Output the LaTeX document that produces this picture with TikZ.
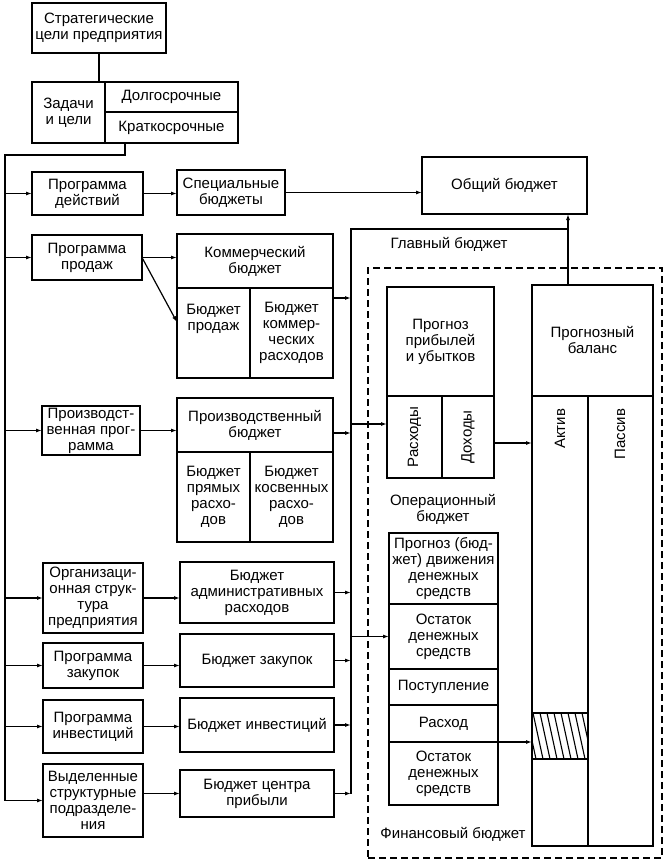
\documentclass[tikz,border=0pt]{standalone}
\usepackage{fontspec}
\setmainfont{Liberation Sans}
\usetikzlibrary{arrows.meta,calc}
\tikzset{
  cell/.style={draw, line width=1.6pt, inner sep=0pt, outer sep=0pt, align=center},
  dashbox/.style={line width=1.1pt, dash pattern=on 7pt off 4pt},
  txt/.style={inner sep=0pt, outer sep=0pt, align=center},
  conn/.style={line width=1.2pt},
  arr/.style={line width=1.2pt, -{Latex[length=6pt,width=4pt]}},
  hatch/.style={line width=1.1pt}
}
\newcommand\cellbox[7][]{%
  \pgfmathsetmacro\cbw{#5-#3}\pgfmathsetmacro\cbh{#6-#4}%
  \pgfmathsetmacro\cbx{(#3+#5)/2}\pgfmathsetmacro\cby{(#4+#6)/2}%
  \node[cell,minimum width=\cbw pt,minimum height=\cbh pt,#1] (#2) at (\cbx,\cby) {#7};}
\begin{document}
\begin{tikzpicture}[x=1pt,y=-1pt,every node/.style={font=\fontsize{15}{16}\selectfont}]
\useasboundingbox[fill=white] (0,0) rectangle (669,864);
% main (dashed) budget frame
\cellbox[dashbox]{mb}{368}{268}{662}{858}{}
% top
\cellbox{strat}{32}{3}{166}{53}{Стратегические\\цели предприятия}
\cellbox{zad}{32}{82}{105}{143}{Задачи\\и цели}
\cellbox{dolg}{105}{82}{238}{112}{Долгосрочные}
\cellbox{krat}{105}{112}{238}{143}{Краткосрочные}
% left column
\cellbox{pd}{32}{172}{143}{215}{Программа\\действий}
\cellbox{pp}{32}{235}{142}{280}{Программа\\продаж}
\cellbox{pprog}{42}{406}{140}{455}{Производст-\\венная прог-\\рамма}
\cellbox{org}{43}{563}{143}{633}{Организаци-\\онная струк-\\тура\\предприятия}
\cellbox{zak}{43}{643}{143}{688}{Программа\\закупок}
\cellbox{inv}{43}{700}{143}{753}{Программа\\инвестиций}
\cellbox{vyd}{43}{764}{143}{837}{Выделенные\\структурные\\подразделе-\\ния}
% middle column
\cellbox{spec}{177}{170}{285}{215}{Специальные\\бюджеты}
\cellbox{komT}{177}{234}{333}{288}{Коммерческий\\бюджет}
\cellbox{bp}{177}{288}{250}{378}{Бюджет\\продаж\\\mbox{}\\\mbox{}}
\cellbox{bkr}{250}{288}{333}{378}{Бюджет\\коммер-\\ческих\\расходов}
\cellbox{proT}{177}{398}{333}{452}{Производственный\\бюджет}
\cellbox{bpr}{177}{452}{250}{542}{Бюджет\\прямых\\расхо-\\дов}
\cellbox{bkos}{250}{452}{333}{542}{Бюджет\\косвенных\\расхо-\\дов}
\cellbox{adm}{180}{562}{334}{623}{Бюджет\\административных\\расходов}
\cellbox{bzak}{180}{634}{334}{687}{Бюджет закупок}
\cellbox{binv}{180}{698}{334}{752}{Бюджет инвестиций}
\cellbox{bcp}{180}{770}{334}{817}{Бюджет центра\\прибыли}
% right part
\cellbox{obsh}{422}{157}{587}{214}{Общий бюджет}
\cellbox{ppT}{387}{287}{494}{396}{Прогноз\\прибылей\\и убытков}
\cellbox{rasx}{387}{396}{442}{478}{}
\cellbox{dox}{442}{396}{494}{478}{}
\node[txt,rotate=90] (rasxT) at (rasx.center) {Расходы};
\node[txt,rotate=90] (doxT) at (dox.center) {Доходы};
\cellbox{balT}{532}{285}{653}{396}{Прогнозный\\баланс}
\cellbox{akt}{532}{396}{588}{846}{}
\cellbox{pas}{588}{396}{653}{846}{}
\node[txt,rotate=90,anchor=east] (aktT) at (560,409) {Актив};
\node[txt,rotate=90,anchor=east] (pasT) at (620,409) {Пассив};
\cellbox{hb}{532}{713}{588}{759}{}
\begin{scope}
  \clip (hb.north west) rectangle (hb.south east);
  \foreach \x in {519,526,...,595} \draw[hatch] (\x,713) -- (\x+10,759);
\end{scope}
\cellbox{f1}{389}{533}{498}{604}{Прогноз (бюд-\\жет) движения\\денежных\\средств}
\cellbox{f2}{389}{604}{498}{669}{Остаток\\денежных\\средств}
\cellbox{f3}{389}{669}{498}{705}{Поступление}
\cellbox{f4}{389}{705}{498}{742}{Расход}
\cellbox{f5}{389}{742}{498}{805}{Остаток\\денежных\\средств}
% labels
\node[txt] (glav) at (449,244) {Главный бюджет};
\node[txt] (oper) at (443,509) {Операционный\\бюджет};
\node[txt] (fin) at (453,834) {Финансовый бюджет};
% top connectors
\draw[conn] (strat.south) -- (strat.south |- zad.north);
\coordinate (kb) at ($(krat.south west)+(20,0)$);
\coordinate (lt) at (5,155);
\draw[conn] (kb) |- (lt) -- (lt |- vyd.west);
\foreach \n in {pd,pp,pprog,org,zak,inv,vyd} \draw[arr] (lt |- \n.west) -- (\n.west);
% left to middle
\draw[arr] (pd.east) -- (spec.west |- pd.east);
\draw[arr] (spec.east) -- (obsh.west |- spec.east);
\draw[arr] (pp.east) -- (komT.west |- pp.east);
\draw[arr] (pp.east) -- ($(bp.north west)!0.38!(bp.south west)$);
\draw[arr] (pprog.east) -- (proT.west |- pprog.east);
\draw[arr] (org.east) -- (adm.west |- org.east);
\draw[arr] (zak.east) -- (bzak.west |- zak.east);
\draw[arr] (inv.east) -- (binv.west |- inv.east);
\draw[arr] (vyd.east |- bcp.west) -- (bcp.west);
% right bus
\coordinate (rt) at (351,229);
\coordinate (jn) at (568,229);
\coordinate (rb) at (rt |- bcp.east);
\draw[conn] (rb) -- (rt) -- (jn);
\draw[arr] (jn |- balT.north) -- (jn |- obsh.south);
\coordinate (k1) at ($(bkr.north east)+(0,10)$);
\coordinate (k2) at ($(proT.east)+(0,8)$);
\draw[arr] (k1) -- (rt |- k1);
\draw[arr] (k2) -- (rt |- k2);
\foreach \n in {adm,bzak,binv,bcp} \draw[arr] (\n.east) -- (rt |- \n.east);
\coordinate (r1) at ($(rasx.north west)+(0,28)$);
\draw[arr] (rt |- r1) -- (r1);
\draw[arr] (rt |- f2.west) -- (f2.west);
\coordinate (d1) at ($(dox.east)+(0,6)$);
\draw[arr] (d1) -- (akt.west |- d1);
\draw[arr] (f4.south east) -- (akt.west |- f4.south east);
\end{tikzpicture}
\end{document}
